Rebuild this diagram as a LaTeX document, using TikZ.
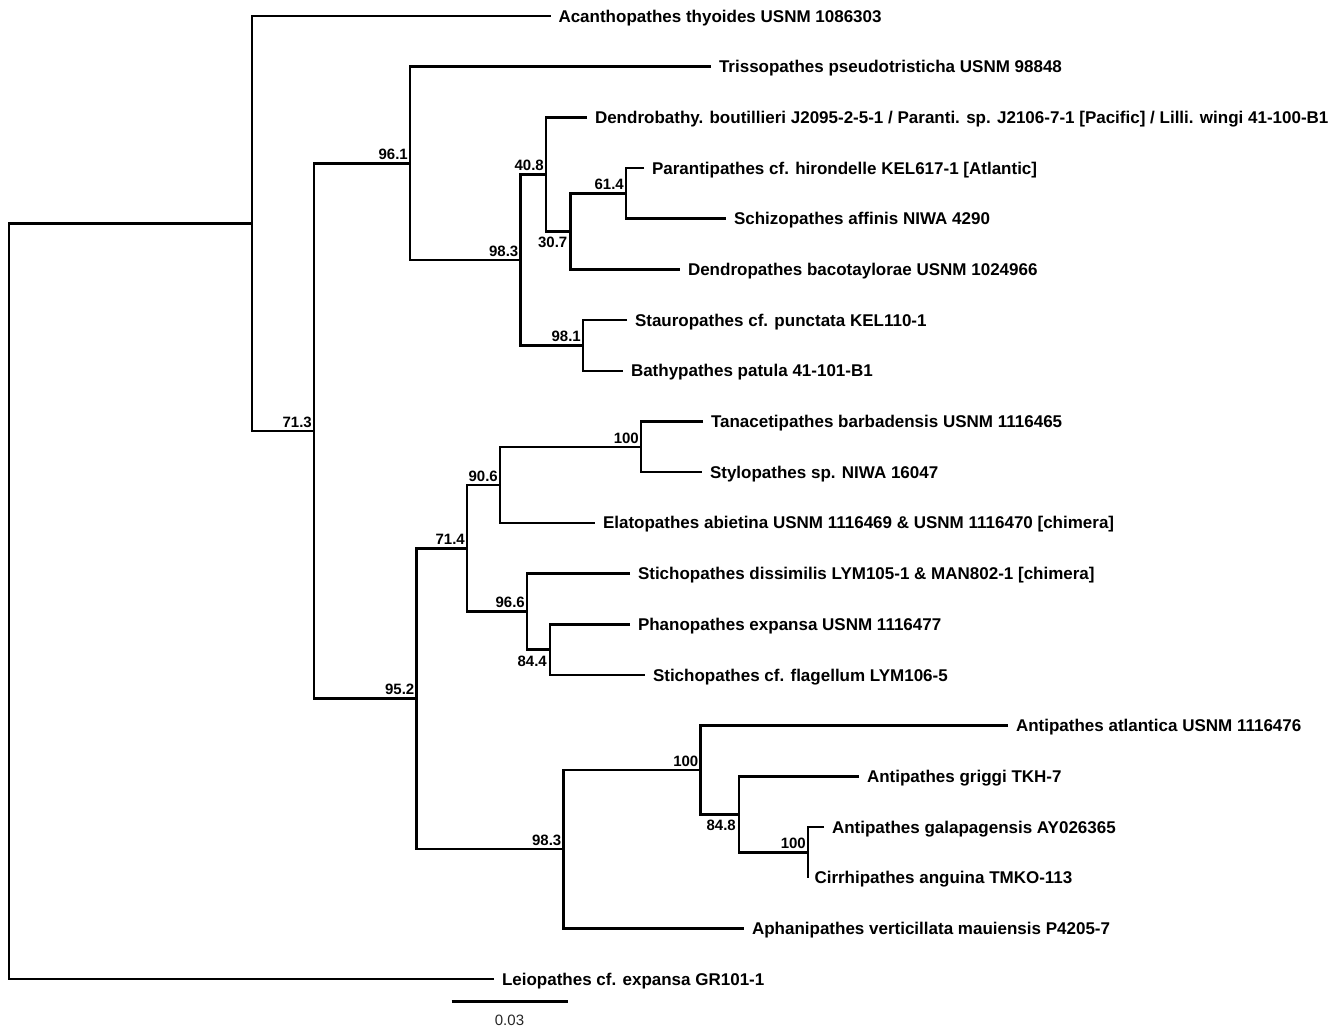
\documentclass[tikz,border=0pt]{standalone}
\usepackage{fontspec}
\setmainfont{Liberation Sans}
\begin{document}
\begin{tikzpicture}[x=1pt,y=-1pt,
  branch/.style={line width=2.6pt, line join=miter},
  leaf/.style={anchor=west, inner sep=0pt, outer xsep=8pt, text height=12.2pt, text depth=0pt,
    font=\bfseries\fontsize{17}{17}\selectfont},
  bsa/.style={anchor=south east, inner sep=0pt, xshift=-2pt, yshift=3.5pt, text height=10.7pt, text depth=0pt,
    font=\bfseries\fontsize{15}{15}\selectfont},
  bsb/.style={anchor=north east, inner sep=0pt, xshift=-3pt, yshift=-5.5pt, text height=10.7pt, text depth=0pt,
    font=\bfseries\fontsize{15}{15}\selectfont},
  scalelab/.style={inner sep=0pt, text=black!85, font=\fontsize{15}{15}\selectfont}]
\useasboundingbox (0,0) rectangle (1338,1034);
% leaves
\node[leaf] (l0) at (550.5,16) {Acanthopathes thyoides USNM 1086303};
\node[leaf] (l1) at (711,66.7) {Trissopathes pseudotristicha USNM 98848};
\node[leaf] (l2) at (587,117.4) {Dendrobathy. boutillieri J2095-2-5-1 / Paranti. sp. J2106-7-1 [Pacific] / Lilli. wingi 41-100-B1};
\node[leaf] (l3) at (644,168) {Parantipathes cf. hirondelle KEL617-1 [Atlantic]};
\node[leaf] (l4) at (726,218.7) {Schizopathes affinis NIWA 4290};
\node[leaf] (l5) at (680,269.4) {Dendropathes bacotaylorae USNM 1024966};
\node[leaf] (l6) at (627,320.1) {Stauropathes cf. punctata KEL110-1};
\node[leaf] (l7) at (623,370.8) {Bathypathes patula 41-101-B1};
\node[leaf] (l8) at (703,421.4) {Tanacetipathes barbadensis USNM 1116465};
\node[leaf] (l9) at (702,472.1) {Stylopathes sp. NIWA 16047};
\node[leaf] (l10) at (595,522.8) {Elatopathes abietina USNM 1116469 \& USNM 1116470 [chimera]};
\node[leaf] (l11) at (630,573.5) {Stichopathes dissimilis LYM105-1 \& MAN802-1 [chimera]};
\node[leaf] (l12) at (630,624.2) {Phanopathes expansa USNM 1116477};
\node[leaf] (l13) at (645,674.9) {Stichopathes cf. flagellum LYM106-5};
\node[leaf] (l14) at (1008,725.5) {Antipathes atlantica USNM 1116476};
\node[leaf] (l15) at (859,776.2) {Antipathes griggi TKH-7};
\node[leaf] (l16) at (824,826.9) {Antipathes galapagensis AY026365};
\node[leaf, outer xsep=6.5pt] (l17) at (808,877.6) {Cirrhipathes anguina TMKO-113};
\node[leaf] (l18) at (744,928.3) {Aphanipathes verticillata mauiensis P4205-7};
\node[leaf] (l19) at (494,979) {Leiopathes cf. expansa GR101-1};
% internal nodes
\coordinate (root) at (9,601.25);
\coordinate (nA) at (252,223.5);
\coordinate (n713) at (314,431);
\coordinate (n961) at (410,163.3);
\coordinate (n983) at (520.5,259.9);
\coordinate (n408) at (546,174.4);
\coordinate (n307) at (570.5,231.4);
\coordinate (n614) at (626,193.3);
\coordinate (n981) at (583,345.5);
\coordinate (n952) at (416.5,698.6);
\coordinate (n714) at (467,548.2);
\coordinate (n906) at (500,484.8);
\coordinate (n100a) at (641,446.8);
\coordinate (n966) at (527,611.5);
\coordinate (n844) at (550,649.6);
\coordinate (n983b) at (563.5,849.1);
\coordinate (n100b) at (700.5,769.9);
\coordinate (n848) at (739,814.2);
\coordinate (n100c) at (808,852.3);
% branches
\draw[branch] (l19.west) -| (root) |- (nA);
\draw[branch] (l0.west) -| (nA) |- (n713);
\draw[branch] (n961) -| (n713) |- (n952);
\draw[branch] (l1.west) -| (n961) |- (n983);
\draw[branch] (n408) -| (n983) |- (n981);
\draw[branch] (l2.west) -| (n408) |- (n307);
\draw[branch] (n614) -| (n307) |- (l5.west);
\draw[branch] (l3.west) -| (n614) |- (l4.west);
\draw[branch] (l6.west) -| (n981) |- (l7.west);
\draw[branch] (n714) -| (n952) |- (n983b);
\draw[branch] (n906) -| (n714) |- (n966);
\draw[branch] (n100a) -| (n906) |- (l10.west);
\draw[branch] (l8.west) -| (n100a) |- (l9.west);
\draw[branch] (l11.west) -| (n966) |- (n844);
\draw[branch] (l12.west) -| (n844) |- (l13.west);
\draw[branch] (n100b) -| (n983b) |- (l18.west);
\draw[branch] (l14.west) -| (n100b) |- (n848);
\draw[branch] (l15.west) -| (n848) |- (n100c);
\draw[branch] (l16.west) -| (n100c) |- (l17.west);
% support values
\node[bsa] (b713) at (n713) {71.3};
\node[bsa] (b961) at (n961) {96.1};
\node[bsa] (b983) at (n983) {98.3};
\node[bsa] (b408) at (n408) {40.8};
\node[bsb] (b307) at (n307) {30.7};
\node[bsa] (b614) at (n614) {61.4};
\node[bsa] (b981) at (n981) {98.1};
\node[bsa] (b952) at (n952) {95.2};
\node[bsa] (b714) at (n714) {71.4};
\node[bsa] (b906) at (n906) {90.6};
\node[bsa] (b100a) at (n100a) {100};
\node[bsa] (b966) at (n966) {96.6};
\node[bsb] (b844) at (n844) {84.4};
\node[bsa] (b983b) at (n983b) {98.3};
\node[bsa] (b100b) at (n100b) {100};
\node[bsb] (b848) at (n848) {84.8};
\node[bsa] (b100c) at (n100c) {100};
% scale bar
\coordinate (sb1) at (451.5,1001.5);
\coordinate (sb2) at (567.5,1001.5);
\draw[branch] (sb1) -- (sb2);
\node[scalelab] (sblab) at (509.5,1020.5) {0.03};
\end{tikzpicture}
\end{document}
